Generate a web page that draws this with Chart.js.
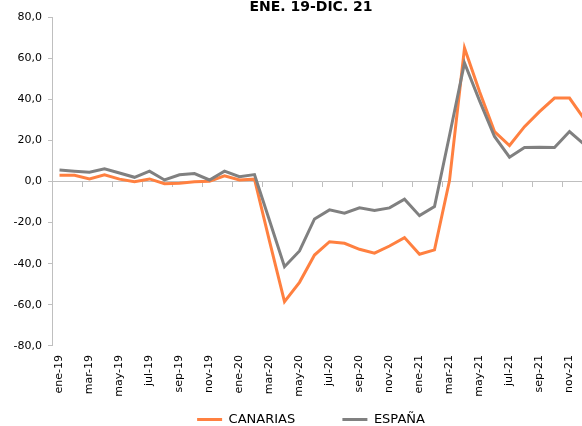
<!DOCTYPE html>
<html>
<head>
<meta charset="utf-8">
<script src="https://cdn.jsdelivr.net/npm/chart.js@4/dist/chart.umd.min.js"></script>
<style>
  html, body { margin: 0; padding: 0; overflow: hidden; background: #fff; }
  #wrap { width: 582px; height: 426px; overflow: hidden; position: relative; }
  canvas { position: absolute; left: 0; top: 0; }
</style>
</head>
<body>
<div id="wrap"><canvas id="chart" width="622" height="436"></canvas></div>
<script>
const months = [
  'ene-19', 'feb-19', 'mar-19', 'abr-19', 'may-19', 'jun-19', 'jul-19', 'ago-19', 'sep-19', 'oct-19', 'nov-19', 'dic-19',
  'ene-20', 'feb-20', 'mar-20', 'abr-20', 'may-20', 'jun-20', 'jul-20', 'ago-20', 'sep-20', 'oct-20', 'nov-20', 'dic-20',
  'ene-21', 'feb-21', 'mar-21', 'abr-21', 'may-21', 'jun-21', 'jul-21', 'ago-21', 'sep-21', 'oct-21', 'nov-21', 'dic-21'
];

const canarias = [
  3.1, 3.1, 1.3, 3.3, 1.2, -0.1, 1.3, -1.0, -0.8, -0.1, 0.2, 2.8,
  0.8, 1.2, -29.0, -58.5, -49.1, -35.8, -29.3, -30.1, -33.0, -34.9, -31.4, -27.3,
  -35.4, -33.3, 0.5, 65.1, 43.9, 24.4, 17.6, 26.8, 34.1, 40.7, 40.7, 30.3
];

const espana = [
  5.7, 5.1, 4.6, 6.2, 4.2, 2.1, 5.1, 0.8, 3.3, 3.9, 0.8, 5.1,
  2.4, 3.4, -19.0, -41.5, -33.8, -18.2, -13.8, -15.4, -12.8, -14.1, -12.8, -8.6,
  -16.6, -12.2, 22.5, 57.8, 39.5, 22.0, 11.9, 16.6, 16.8, 16.6, 24.4, 18.0
];

const yMin = -80;
const yMax = 80;
const yStep = 20;

const title = 'ENE. 19-DIC. 21';
const seriesNames = ['CANARIAS', 'ESPAÑA'];
const seriesColors = ['#ff8040', '#808080'];
const axisColor = '#bfbfbf';

Chart.defaults.font.family = '"DejaVu Sans", Verdana, sans-serif';
Chart.defaults.color = '#000';

const ctx = document.getElementById('chart').getContext('2d');

new Chart(ctx, {
  type: 'line',
  data: {
    labels: months,
    datasets: [
      {
        label: seriesNames[0],
        data: canarias,
        borderColor: seriesColors[0],
        backgroundColor: seriesColors[0],
        borderWidth: 3,
        pointRadius: 0,
        tension: 0,
        fill: false,
        order: 1
      },
      {
        label: seriesNames[1],
        data: espana,
        borderColor: seriesColors[1],
        backgroundColor: seriesColors[1],
        borderWidth: 3,
        pointRadius: 0,
        tension: 0,
        fill: false,
        order: 0
      }
    ]
  },
  options: {
    responsive: false,
    animation: false,
    devicePixelRatio: 1,
    layout: { padding: 0 },
    plugins: {
      tooltip: { enabled: false },
      title: {
        display: true,
        text: title,
        color: '#000',
        font: { size: 14, weight: 'bold', lineHeight: 1 },
        padding: { top: 0, bottom: 3.5 }
      },
      legend: {
        position: 'bottom',
        labels: {
          boxWidth: 25,
          boxHeight: 3,
          padding: 10,
          color: '#000',
          font: { size: 13 },
          sort: (a, b) => a.datasetIndex - b.datasetIndex,
          // wider gap between the two entries without a tall legend box
          generateLabels: chart => Chart.defaults.plugins.legend.labels.generateLabels(chart)
            .map(item => ({
              ...item,
              lineWidth: 0,
              text: item.datasetIndex === 0 ? item.text + '\u00a0'.repeat(9) : item.text
            }))
        }
      }
    },
    scales: {
      x: {
        type: 'category',
        position: 'bottom',
        offset: true,
        grid: { display: false, drawTicks: false },
        border: { display: false },
        ticks: {
          autoSkip: false,
          minRotation: 90,
          maxRotation: 90,
          padding: 9.3,
          font: { size: 11 },
          callback: function (value, index) {
            return index % 2 === 0 ? this.getLabelForValue(value) : null;
          }
        },
        afterFit: scale => { scale.height = 57.3; }
      },
      x2: {
        type: 'category',
        labels: months,
        position: { y: 0 },
        offset: true,
        grid: {
          offset: true,
          drawOnChartArea: false,
          tickLength: 5,
          tickColor: c => (c.index % 2 === 0 ? axisColor : 'rgba(0,0,0,0)')
        },
        border: { display: true, color: axisColor, width: 1 },
        ticks: { display: false },
        afterFit: scale => { scale.height = 0; }
      },
      y: {
        position: 'left',
        min: yMin,
        max: yMax,
        grid: {
          drawOnChartArea: false,
          tickLength: 4,
          tickColor: axisColor
        },
        border: { display: true, color: axisColor, width: 1 },
        ticks: {
          stepSize: yStep,
          padding: 6,
          font: { size: 11 },
          callback: v => v.toFixed(1).replace('.', ',')
        },
        afterFit: scale => { scale.width = 52; }
      },
      yRight: {
        position: 'right',
        grid: { display: false },
        border: { display: false },
        ticks: { display: false },
        afterFit: scale => { scale.width = 30; }
      }
    }
  }
});
</script>
</body>
</html>
